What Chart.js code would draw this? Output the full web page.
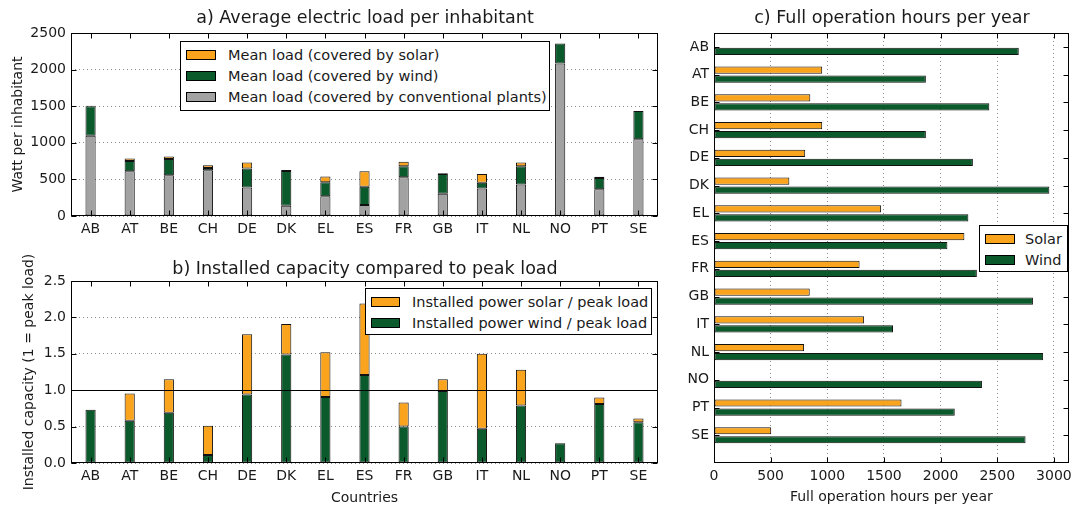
<!DOCTYPE html>
<html lang="en">
<head>
<meta charset="UTF-8">
<title>Load, installed capacity and full operation hours</title>
<script src="https://cdn.jsdelivr.net/npm/chart.js"></script>
<style>
  body { margin: 0; background: #fff; font-family: "DejaVu Sans", sans-serif; color: #1a1a1a; }
  #page { position: relative; width: 1077px; height: 507px; overflow: hidden; }
  .box { position: absolute; }
  .title { position: absolute; font-size: 17.5px; line-height: 18px; white-space: nowrap; transform: translateX(-50%); }
  .legend { position: absolute; box-sizing: border-box; background: #fff; border: 1px solid #000; font-size: 14.5px; padding-top: 2px; }
  .legend .row { display: flex; align-items: center; height: 21px; white-space: nowrap; padding-left: 5px; }
  .legend .sw { box-sizing: border-box; width: 30px; height: 10px; border: 1px solid #000; margin-right: 12px; flex: none; }
</style>
</head>
<body>
<div id="page">
  <div class="box" style="left:0;top:0;width:670px;height:240px"><canvas id="chartA"></canvas></div>
  <div class="box" style="left:0;top:240px;width:670px;height:267px"><canvas id="chartB"></canvas></div>
  <div class="box" style="left:680px;top:0;width:397px;height:507px"><canvas id="chartC"></canvas></div>

  <div class="title" style="left:365px;top:8px">a) Average electric load per inhabitant</div>
  <div class="title" style="left:365px;top:259px">b) Installed capacity compared to peak load</div>
  <div class="title" style="left:892px;top:8px">c) Full operation hours per year</div>

  <div class="legend" style="left:180px;top:41px;width:370px;height:70px">
    <div class="row"><span class="sw" style="background:#FAA41E"></span>Mean load (covered by solar)</div>
    <div class="row"><span class="sw" style="background:#0B5A2B"></span>Mean load (covered by wind)</div>
    <div class="row"><span class="sw" style="background:#A2A2A2"></span>Mean load (covered by conventional plants)</div>
  </div>
  <div class="legend" style="left:365px;top:288px;width:287px;height:47px">
    <div class="row"><span class="sw" style="background:#FAA41E;width:29px"></span>Installed power solar / peak load</div>
    <div class="row"><span class="sw" style="background:#0B5A2B;width:29px"></span>Installed power wind / peak load</div>
  </div>
  <div class="legend" style="left:979px;top:225px;width:89px;height:47px">
    <div class="row"><span class="sw" style="background:#FAA41E;margin-right:10px"></span>Solar</div>
    <div class="row"><span class="sw" style="background:#0B5A2B;margin-right:10px"></span>Wind</div>
  </div>
</div>

<script>
const countries = ['AB', 'AT', 'BE', 'CH', 'DE', 'DK', 'EL', 'ES', 'FR', 'GB', 'IT', 'NL', 'NO', 'PT', 'SE'];

// a) Watt per inhabitant
const loadConventional = [1095, 610, 555, 625, 390, 140, 270, 150, 530, 305, 375, 430, 2085, 365, 1050];
const loadWind = [405, 143, 225, 30, 260, 475, 190, 250, 150, 270, 80, 250, 270, 155, 385];
const loadSolar = [5, 32, 33, 40, 80, 15, 80, 210, 60, 8, 118, 50, 0, 15, 0];

// b) installed capacity / peak load
const capWind = [0.73, 0.58, 0.69, 0.11, 0.94, 1.49, 0.905, 1.21, 0.50, 0.99, 0.47, 0.79, 0.27, 0.81, 0.56];
const capSolar = [0, 0.375, 0.46, 0.40, 0.83, 0.42, 0.615, 0.98, 0.33, 0.16, 1.03, 0.49, 0, 0.09, 0.05];

// c) full operation hours per year
const hoursSolar = [0, 955, 850, 955, 805, 665, 1475, 2210, 1285, 845, 1325, 795, 0, 1655, 505];
const hoursWind = [2690, 1870, 2430, 1870, 2285, 2960, 2245, 2060, 2320, 2815, 1580, 2905, 2365, 2125, 2750];
const hourTicks = [0, 500, 1000, 1500, 2000, 2500, 3000];

const orange = '#FAA41E', green = '#0B5A2B', grey = '#A2A2A2', edge = '#111';

Chart.defaults.font.family = 'DejaVu Sans';
Chart.defaults.font.size = 14;
Chart.defaults.color = '#1a1a1a';
Chart.defaults.animation = false;
Chart.defaults.maintainAspectRatio = false;
Chart.defaults.plugins.legend.display = false;
Chart.defaults.plugins.tooltip.enabled = false;

// box around the axes, inward tick marks on all sides, optional line at y = refLine
const frame = {
  id: 'frame',
  afterDatasetsDraw(chart, args, opts) {
    const { ctx, chartArea: a, scales } = chart;
    const L = Math.round(a.left) + 0.5, R = Math.round(a.right) - 0.5;
    const T = Math.round(a.top) + 0.5, B = Math.round(a.bottom) - 0.5;
    ctx.save();
    ctx.strokeStyle = '#000';
    ctx.lineWidth = 1;
    ctx.beginPath();
    for (const s of Object.values(scales)) {
      s.ticks.forEach((t, i) => {
        if (t.label == null || t.label === '') return;
        const p = Math.round(s.getPixelForTick(i)) + 0.5;
        if (s.isHorizontal()) {
          ctx.moveTo(p, B); ctx.lineTo(p, B - 5);
          ctx.moveTo(p, T); ctx.lineTo(p, T + 5);
        } else {
          ctx.moveTo(L, p); ctx.lineTo(L + 5, p);
          ctx.moveTo(R, p); ctx.lineTo(R - 5, p);
        }
      });
    }
    ctx.stroke();
    if (opts.refLine != null) {
      const y = Math.round(scales.y.getPixelForValue(opts.refLine)) + 0.5;
      ctx.beginPath(); ctx.moveTo(L, y); ctx.lineTo(R, y); ctx.stroke();
    }
    ctx.strokeRect(L, T, R - L, B - T);
    ctx.restore();
  }
};

function bars(label, data, color) {
  return { label, data, backgroundColor: color, borderColor: edge, borderWidth: 1, borderSkipped: false };
}

const dotted = { color: '#8a8a8a', drawTicks: false };
const noGrid = { display: false, drawTicks: false };

new Chart(document.getElementById('chartA'), {
  type: 'bar',
  data: {
    labels: countries,
    datasets: [
      bars('Mean load (covered by conventional plants)', loadConventional, grey),
      bars('Mean load (covered by wind)', loadWind, green),
      bars('Mean load (covered by solar)', loadSolar, orange)
    ]
  },
  options: {
    barPercentage: 0.26,
    categoryPercentage: 1,
    layout: { padding: { top: 33, right: 12, left: 0, bottom: 0 } },
    scales: {
      x: {
        stacked: true,
        grid: noGrid,
        border: { display: false },
        ticks: { padding: 5 },
        afterFit: s => { s.height = 24; }
      },
      y: {
        stacked: true, min: 0, max: 2500,
        ticks: { stepSize: 500, padding: 5, callback: v => String(v) },
        grid: dotted,
        border: { display: false, dash: [1, 3] },
        title: { display: true, text: 'Watt per inhabitant', padding: { top: 10 } },
        afterFit: s => { s.width = 71; }
      }
    },
    plugins: { frame: {} }
  },
  plugins: [frame]
});

new Chart(document.getElementById('chartB'), {
  type: 'bar',
  data: {
    labels: countries,
    datasets: [
      bars('Installed power wind / peak load', capWind, green),
      bars('Installed power solar / peak load', capSolar, orange)
    ]
  },
  options: {
    barPercentage: 0.26,
    categoryPercentage: 1,
    layout: { padding: { top: 41, right: 12, left: 0, bottom: 0 } },
    scales: {
      x: {
        stacked: true,
        grid: noGrid,
        border: { display: false },
        ticks: { padding: 5 },
        title: { display: true, text: 'Countries', padding: { top: 0, bottom: 0 } },
        afterFit: s => { s.height = 44; }
      },
      y: {
        stacked: true, min: 0, max: 2.5,
        ticks: { stepSize: 0.5, padding: 5, callback: v => v.toFixed(1) },
        grid: dotted,
        border: { display: false, dash: [1, 3] },
        title: { display: true, text: 'Installed capacity (1 = peak load)', padding: { top: 21 } },
        afterFit: s => { s.width = 71; }
      }
    },
    plugins: { frame: { refLine: 1 } }
  },
  plugins: [frame]
});

new Chart(document.getElementById('chartC'), {
  type: 'bar',
  data: {
    datasets: [
      bars('Solar', hoursSolar.map((v, i) => ({ x: v, y: i })), orange),
      bars('Wind', hoursWind.map((v, i) => ({ x: v, y: i })), green)
    ]
  },
  options: {
    indexAxis: 'y',
    categoryPercentage: 0.65,
    barPercentage: 0.8,
    layout: { padding: { top: 33, right: 7, left: 0, bottom: 0 } },
    scales: {
      x: {
        type: 'linear', min: 0, max: 3130, bounds: 'data',
        afterBuildTicks: s => { s.ticks = hourTicks.map(v => ({ value: v })); },
        ticks: { padding: 5, maxRotation: 0, autoSkip: false, callback: v => String(v) },
        grid: dotted,
        border: { display: false, dash: [1, 3] },
        title: { display: true, text: 'Full operation hours per year', padding: { top: 0, bottom: 1 } },
        afterFit: s => { s.height = 44; }
      },
      y: {
        type: 'linear', reverse: true, min: -0.5, max: 15, bounds: 'data', offset: false,
        afterBuildTicks: s => { s.ticks = countries.map((c, i) => ({ value: i })); },
        ticks: { autoSkip: false, padding: 5, callback: v => countries[v] },
        grid: noGrid,
        border: { display: false },
        afterFit: s => { s.width = 34; }
      }
    },
    plugins: { frame: {} }
  },
  plugins: [frame]
});
</script>
</body>
</html>
